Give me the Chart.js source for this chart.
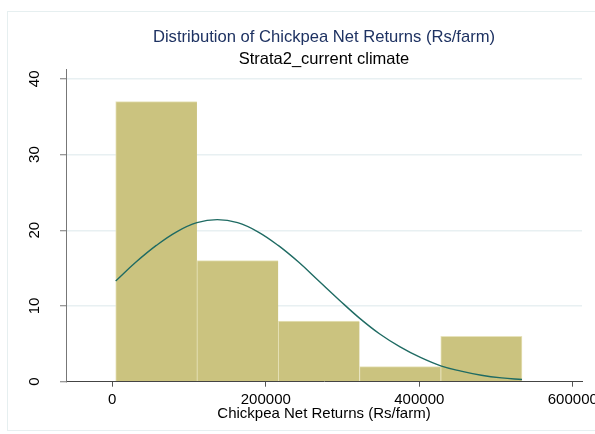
<!DOCTYPE html>
<html>
<head>
<meta charset="utf-8">
<script src="https://cdn.jsdelivr.net/npm/chart.js@4.4.1/dist/chart.umd.min.js"></script>
<style>
  html, body { margin: 0; padding: 0; background: #fff; overflow: hidden; }
  #wrap { width: 620px; height: 434px; }
</style>
</head>
<body>
<div id="wrap"><canvas id="c" width="620" height="434"></canvas></div>
<script>
// Histogram bins (Rs/farm) and farm counts per bin
const binEdges = [4430, 110310, 216190, 322070, 427950, 533830];
const frequencies = [37, 16, 8, 2, 6];

// Normal density overlay, scaled to frequency
const curveX = [4430, 30900, 57370, 83840, 110310, 136780, 163250, 189720, 216190, 242660,
                269130, 295600, 322070, 348540, 375010, 401480, 427950, 454420, 480890, 507360, 533830];
const curveY = [13.3, 15.8, 18.0, 19.8, 21.0, 21.4, 21.0, 19.8, 18.0, 15.8,
                13.3, 10.8, 8.4, 6.3, 4.6, 3.2, 2.1, 1.4, 0.85, 0.5, 0.3];

const xTicks = [0, 200000, 400000, 600000];
const yTicks = [0, 10, 20, 30, 40];

const titleText = 'Distribution of Chickpea Net Returns (Rs/farm)';
const subtitleText = 'Strata2_current climate';
const xTitleText = 'Chickpea Net Returns (Rs/farm)';

const FONT = '"Liberation Sans", Arial, Helvetica, sans-serif';

const barData = frequencies.map((f, i) => ({ x: (binEdges[i] + binEdges[i + 1]) / 2, y: f }));
const lineData = curveX.map((x, i) => ({ x: x, y: curveY[i] }));

// Frame, titles, rotated y labels and x-axis title
const decorations = {
  id: 'decorations',
  beforeDraw(chart) {
    const ctx = chart.ctx;
    ctx.save();
    ctx.strokeStyle = '#e6eff0';
    ctx.lineWidth = 1;
    ctx.strokeRect(7.5, 11.5, 700, 419);
    ctx.restore();
  },
  afterDraw(chart) {
    const ctx = chart.ctx;
    const area = chart.chartArea;
    const cx = (area.left + area.right) / 2;
    ctx.save();
    ctx.textAlign = 'center';
    ctx.textBaseline = 'middle';
    ctx.fillStyle = '#1e3262';
    ctx.font = '16.6px ' + FONT;
    ctx.fillText(titleText, cx, 37);
    ctx.fillStyle = '#000';
    ctx.font = '16.5px ' + FONT;
    ctx.fillText(subtitleText, cx, 59);

    ctx.font = '15px ' + FONT;
    ctx.fillText(xTitleText, cx, 414);

    const ys = chart.scales.y;
    yTicks.forEach(v => {
      const py = ys.getPixelForValue(v);
      ctx.save();
      ctx.translate(35, py);
      ctx.rotate(-Math.PI / 2);
      ctx.fillText(String(v), 0, 0);
      ctx.restore();
    });
    ctx.restore();
  }
};

new Chart(document.getElementById('c'), {
  type: 'bar',
  data: {
    datasets: [
      {
        type: 'line',
        data: lineData,
        borderColor: '#1f6b63',
        borderWidth: 1.4,
        pointRadius: 0,
        tension: 0.4,
        fill: false
      },
      {
        type: 'bar',
        data: barData,
        backgroundColor: '#cbc37f',
        borderColor: '#e7e3bb',
        borderWidth: ctx => ({ left: 1, top: 1, right: ctx.dataIndex === frequencies.length - 1 ? 1 : 0, bottom: 0 }),
        borderSkipped: false,
        barPercentage: 1,
        categoryPercentage: 1
      }
    ]
  },
  options: {
    responsive: false,
    animation: false,
    devicePixelRatio: 1,
    layout: { padding: { left: 0, top: 69, right: 38, bottom: 0 } },
    plugins: { legend: { display: false }, tooltip: { enabled: false } },
    scales: {
      x: {
        type: 'linear',
        offset: false,
        min: -60300,
        max: 612000,
        afterBuildTicks: s => { s.ticks = xTicks.map(v => ({ value: v })); },
        afterFit: s => { s.height = 52.3; },
        grid: { display: true, offset: false, drawOnChartArea: false, tickLength: 5, tickColor: '#555', lineWidth: 1 },
        border: { color: '#444', width: 1 },
        ticks: {
          color: '#000',
          padding: 4,
          maxRotation: 0,
          autoSkip: false,
          font: { family: FONT, size: 15 },
          callback: v => String(v)
        }
      },
      y: {
        type: 'linear',
        min: 0,
        max: 41.3,
        afterBuildTicks: s => { s.ticks = yTicks.map(v => ({ value: v })); },
        afterFit: s => { s.width = 66; },
        grid: {
          color: c => (c.tick && c.tick.value === 0) ? 'rgba(0,0,0,0)' : '#e8f0f2',
          lineWidth: 1.5,
          tickLength: 6,
          tickColor: '#777',
          tickWidth: 1
        },
        border: { color: '#777', width: 1 },
        ticks: { display: false }
      }
    }
  },
  plugins: [decorations]
});
</script>
</body>
</html>
